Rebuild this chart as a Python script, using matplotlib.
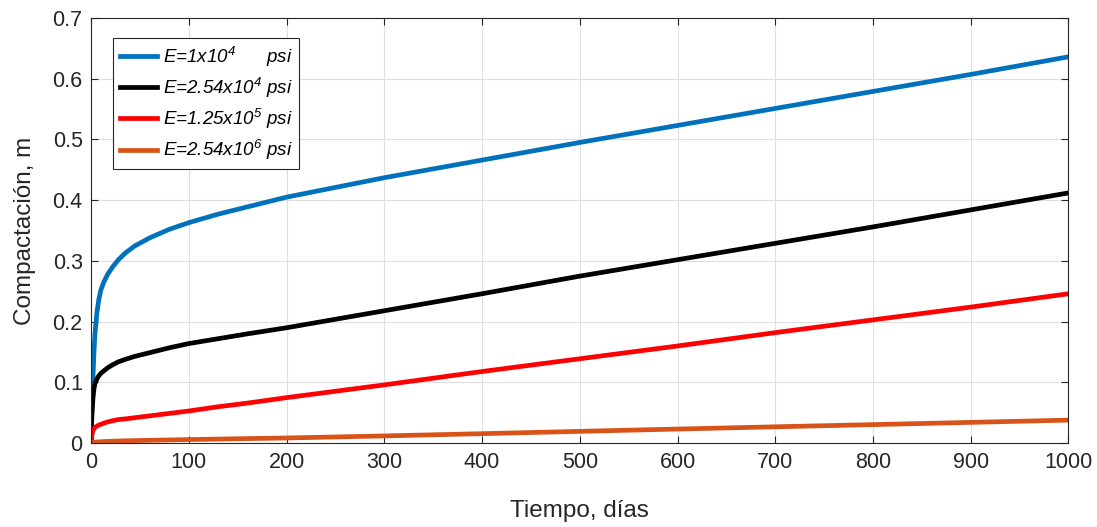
import numpy as np
import matplotlib.pyplot as plt

plt.rcParams['font.family'] = ['Liberation Sans', 'DejaVu Sans']
plt.rcParams['mathtext.fontset'] = 'custom'
plt.rcParams['mathtext.rm'] = 'Liberation Sans:italic'
plt.rcParams['mathtext.it'] = 'Liberation Sans:italic'

# tiempo (dias) y compactacion (m)
t = [0, 0.5, 1, 2, 3, 4, 6, 8, 10, 13, 17, 22, 28, 35, 45, 60, 80, 100,
     130, 160, 200, 300, 400, 500, 600, 700, 800, 900, 1000]
c_e1 = [0.0, 0.04, 0.07, 0.11, 0.15, 0.18, 0.215, 0.237, 0.252, 0.265,
        0.278, 0.29, 0.302, 0.313, 0.325, 0.338, 0.352, 0.363, 0.377,
        0.389, 0.405, 0.437, 0.466, 0.495, 0.523, 0.551, 0.579, 0.607, 0.636]
c_e2 = [0.0, 0.03, 0.05, 0.075, 0.09, 0.098, 0.106, 0.111, 0.115, 0.119,
        0.124, 0.129, 0.134, 0.138, 0.143, 0.149, 0.157, 0.164, 0.172,
        0.18, 0.19, 0.218, 0.246, 0.275, 0.302, 0.329, 0.356, 0.384, 0.412]
c_e3 = [0.0, 0.01, 0.015, 0.021, 0.024, 0.026, 0.028, 0.030, 0.031, 0.033,
        0.035, 0.037, 0.039, 0.040, 0.042, 0.045, 0.049, 0.053, 0.06,
        0.066, 0.075, 0.096, 0.118, 0.139, 0.16, 0.182, 0.203, 0.224, 0.246]
c_e4 = [0.0, 0.0005, 0.001, 0.0013, 0.0016, 0.0018, 0.002, 0.0022, 0.0024,
        0.0027, 0.003, 0.0033, 0.0036, 0.004, 0.0043, 0.0048, 0.0054,
        0.006, 0.0068, 0.0076, 0.0086, 0.012, 0.0157, 0.0195, 0.0233,
        0.027, 0.0306, 0.0343, 0.038]
labels = [r'$E$=1x10$^4$      psi', r'$E$=2.54x10$^4$ psi',
          r'$E$=1.25x10$^5$ psi', r'$E$=2.54x10$^6$ psi']
colors = ['#0072BD', '#000000', '#FF0000', '#D95319']

fig = plt.figure(figsize=(10.97, 5.27), dpi=100)
ax = fig.add_axes([0.083, 0.159, 0.891, 0.807])

for c, lab, col in zip([c_e1, c_e2, c_e3, c_e4], labels, colors):
    ax.plot(t, c, color=col, lw=3.4, label=lab)

ax.set_xlim(0, 1000)
ax.set_ylim(0, 0.7)
ax.set_xticks(np.arange(0, 1001, 100))
ax.set_yticks(np.arange(0, 0.71, 0.1))
ax.set_yticklabels(['0', '0.1', '0.2', '0.3', '0.4', '0.5', '0.6', '0.7'])
ax.grid(True, color='#dfdfdf', lw=0.8)
ax.tick_params(direction='in', labelsize=15.5, top=True, right=True,
               length=5, colors='#262626', pad=6)
for s in ax.spines.values():
    s.set_color('#262626')
    s.set_linewidth(0.8)
ax.set_xlabel('Tiempo, días', fontsize=17.5, color='#262626', labelpad=20)
ax.set_ylabel('Compactación, m', fontsize=17.5, color='#262626', labelpad=12)

leg = ax.legend(loc='upper left', bbox_to_anchor=(0.013, 0.975),
                fontsize=13.5, handlelength=2.0, handletextpad=0.3,
                labelspacing=0.38, borderpad=0.35, fancybox=False,
                framealpha=1, edgecolor='#262626')
for txt in leg.get_texts():
    txt.set_fontstyle('italic')
leg.get_frame().set_linewidth(0.8)

fig.savefig('out.png', dpi=100)
